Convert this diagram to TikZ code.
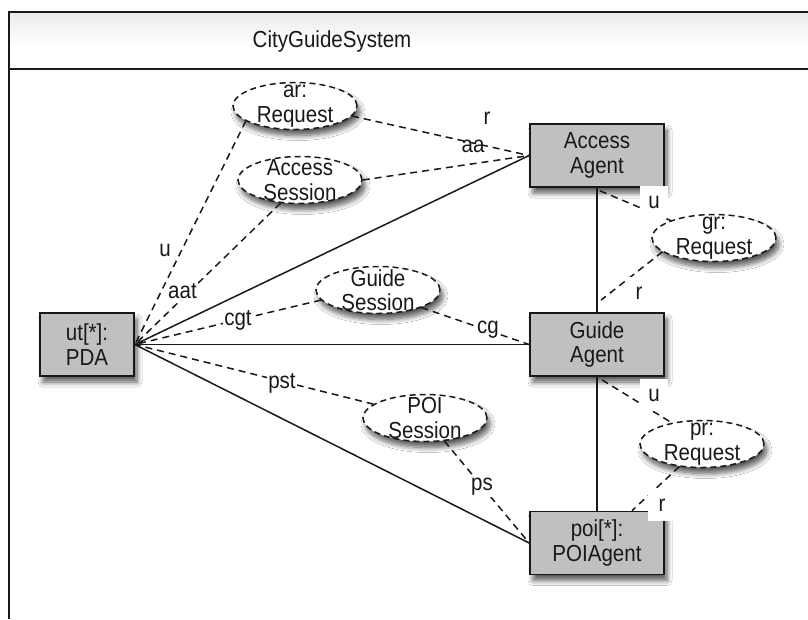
\documentclass[tikz,border=0pt]{standalone}
\usepackage{fontspec}
\setmainfont{Liberation Sans}[FakeStretch=0.885]
\usetikzlibrary{shapes.geometric,shadows.blur}
\definecolor{boxgray}{RGB}{192,192,192}
\definecolor{ink}{RGB}{25,25,25}
\begin{document}
\begin{tikzpicture}[x=1pt,y=-1pt,
  every node/.style={font=\fontsize{23.2}{24.5}\selectfont, text=ink},
  agent/.style={draw=ink, line width=1.7pt, fill=boxgray, minimum width=134pt, minimum height=63pt,
    inner sep=0pt, align=center,
    blur shadow={shadow xshift=3pt, shadow yshift=-6pt, shadow blur radius=5pt, shadow blur steps=8, shadow opacity=65}},
  part/.style={ellipse, draw=ink, line width=1.5pt, dash pattern=on 6pt off 4pt, fill=white,
    minimum width=124pt, minimum height=47pt, inner sep=0pt,
    blur shadow={shadow xshift=3pt, shadow yshift=-6pt, shadow blur radius=5pt, shadow blur steps=8, shadow opacity=65}},
  ptext/.style={align=center, inner sep=0pt},
  conn/.style={draw=ink, line width=1.5pt},
  dconn/.style={draw=ink, line width=1.5pt, dash pattern=on 7pt off 5pt},
  lab/.style={fill=white, inner sep=1.5pt},
  rlab/.style={fill=white, minimum width=28pt, minimum height=32pt, inner sep=0pt},
]
\useasboundingbox (0,0) rectangle (808,619);
\fill[white] (0,0) rectangle (808,619);
\shade[top color=black!8, bottom color=white] (9,12) rectangle (808,45);
\draw[draw=ink, line width=1.7pt] (808,12) -- (9,12) -- (9,619);
\draw[draw=ink, line width=1.7pt] (9,69) -- (808,69);
\node (title) at (332,41) {CityGuideSystem};

% agents
\node[agent, minimum width=94pt] (pda) at (87,344.5) {ut[*]:\\PDA};
\node[agent] (aa) at (597,155.5) {Access\\Agent};
\node[agent] (ga) at (597,344.5) {Guide\\Agent};
\node[agent] (poi) at (597,543) {poi[*]:\\POIAgent};

% parts
\node[part] (ar) at (295,106) {};
\node[ptext] (artext) at (ar) {ar:\\Request};
\node[part] (as) at (300,180) {};
\node[ptext] (astext) at (as) {Access\\Session};
\node[part] (gs) at (378,290) {};
\node[ptext] (gstext) at (gs) {Guide\\Session};
\node[part] (ps) at (425,418) {};
\node[ptext] (pstext) at (ps) {POI\\Session};
\node[part] (gr) at (714,238) {};
\node[ptext] (grtext) at (gr) {gr:\\Request};
\node[part] (pr) at (702,444) {};
\node[ptext] (prtext) at (pr) {pr:\\Request};

% solid connectors
\draw[conn] (pda.east) -- (aa.west);
\draw[conn] (pda.east) -- (ga.west);
\draw[conn] (pda.east) -- (poi.west);
\draw[conn] (aa.south) -- (ga.north);
\draw[conn] (ga.south) -- (poi.north);

% dashed connectors
\node[inner sep=0pt] (laa) at (473,146) {aa};
\draw[dconn] (ar.197) -- (pda.east);
\draw[dconn] (ar.-10) -- (aa.west);
\draw[dconn] (as.230) -- (pda.east);
\draw[dconn] (as.0) -- (aa.west);
\draw[dconn] (gs.190) -- (pda.east);
\draw[dconn] (gs.-22) -- (ga.west);
\draw[dconn] (ps.165) -- (pda.east);
\draw[dconn] (ps.-50) -- (poi.west);
\draw[dconn] ([xshift=3pt,yshift=-3pt]aa.south) -- (gr.158);
\draw[dconn] (gr.195) -- ([xshift=4pt,yshift=12pt]ga.north);
\draw[dconn] ([xshift=5pt,yshift=-3pt]ga.south) -- (pr.145);
\draw[dconn] (pr.225) -- ([xshift=35pt]poi.north);

% labels
\node[lab] (lu1) at (165,250) {u};
\node[lab] (laat) at (182.5,291) {aat};
\node[inner sep=0pt] (lr1) at (487,118) {r};
\node[lab] (lcgt) at (238,320) {cgt};
\node[lab] (lcg) at (488,330) {cg};
\node[lab] (lpst) at (282,383) {pst};
\node[lab] (lps) at (482,487) {ps};
\node[rlab] (lu2) at (654,202) {u};
\node[rlab] (lr2) at (639,293) {r};
\node[rlab] (lu3) at (654,395) {u};
\node[rlab] (lr3) at (662,505) {r};
\end{tikzpicture}
\end{document}
